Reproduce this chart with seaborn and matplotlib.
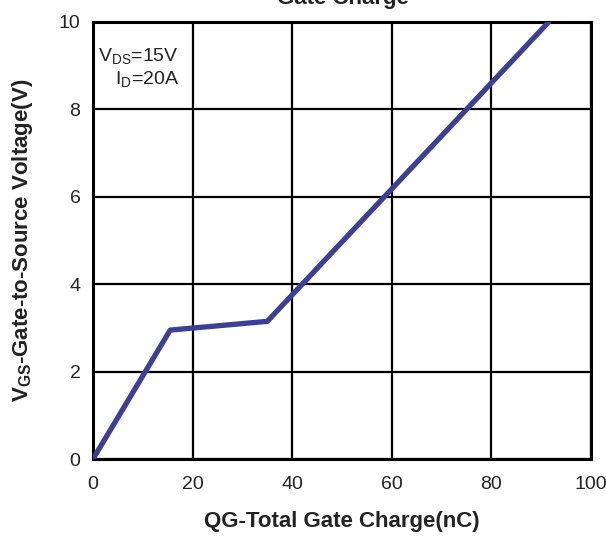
import matplotlib
matplotlib.use("Agg")
import matplotlib.pyplot as plt
import seaborn as sns
import pandas as pd

charge_nc = [0, 15.5, 35, 91.5]
vgs_v = [0, 2.95, 3.15, 10]
x_ticks = [0, 20, 40, 60, 80, 100]
y_ticks = [0, 2, 4, 6, 8, 10]

sns.set_style("white")
plt.rcParams['font.family'] = ['Liberation Sans', 'DejaVu Sans']

df = pd.DataFrame({"Q": charge_nc, "V": vgs_v})

fig = plt.figure(figsize=(6.06, 5.36), dpi=100)
ax = fig.add_axes([93/606, 1-459/536, (591-93)/606, (459-22)/536])

sns.lineplot(data=df, x="Q", y="V", ax=ax, color="#3b3f95", linewidth=3.8, zorder=5)

ax.set_xlim(0, 100)
ax.set_ylim(0, 10)
ax.set_xticks(x_ticks)
ax.set_yticks(y_ticks)
ax.set_xticklabels([str(t) for t in x_ticks], fontsize=14)
ax.set_yticklabels([str(t) for t in y_ticks], fontsize=14)
ax.tick_params(axis='x', length=0, pad=12, colors='#222222')
ax.tick_params(axis='y', length=0, pad=9, colors='#222222')
ax.grid(True, color='black', linewidth=1.6)
for s in ax.spines.values():
    s.set_color('black')
    s.set_linewidth(2.2)

ax.set_xlabel("QG-Total Gate Charge(nC)", fontsize=16, fontweight='bold', color='#222222')
ax.xaxis.set_label_coords(0.5, -(522 - 459) / 437, transform=ax.transAxes)
ax.xaxis.label.set_va('center')
ax.set_ylabel(r"V$_{\mathregular{GS}}$-Gate-to-Source Voltage(V)", fontsize=16, fontweight='bold', color='#222222')
ax.yaxis.set_label_coords(-(93 - 23) / 498, 0.5, transform=ax.transAxes)
ax.yaxis.label.set_va('center')

ax.text(17.3, 9.2, r"V$_{\mathregular{DS}}$=15V", fontsize=14, ha='right', va='center', color='#222222')
ax.text(17.3, 8.67, r"I$_{\mathregular{D}}$=20A", fontsize=14, ha='right', va='center', color='#222222')

fig.text(343/606, 1-4/536, "Gate Charge", fontsize=16, fontweight='bold', ha='center', va='baseline', color='#222222')

fig.savefig("out.png", dpi=100)
